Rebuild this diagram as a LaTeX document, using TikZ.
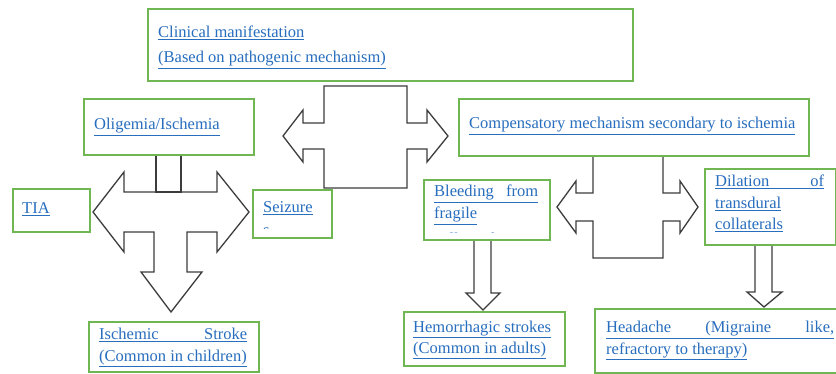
\documentclass[tikz,border=0pt]{standalone}
\usepackage{fontspec}
\setmainfont{Liberation Serif}
\definecolor{boxgreen}{RGB}{112,182,82}
\definecolor{linkblue}{RGB}{40,110,190}
\definecolor{arrowgray}{RGB}{60,60,60}
\newcommand{\ulj}[2]{\underline{\makebox[#1][s]{#2}}}
\tikzset{
  gbox/.style={draw=boxgreen, line width=1.6pt, fill=white, inner sep=0pt, anchor=north west},
  txt/.style={anchor=base west, inner sep=0pt, text=linkblue, font=\fontsize{16.5}{20}\selectfont},
  blockarrow/.style={draw=arrowgray, line width=1.3pt, fill=white, line join=miter},
}
\begin{document}
\begin{tikzpicture}[x=1pt,y=-1pt]
\useasboundingbox (0,0) rectangle (836,374);
\fill[white] (0,0) rectangle (836,374);

% block arrows
\draw[blockarrow] (324,86) -- (407,86) -- (407,123) -- (427,123) -- (427,110) -- (448,136) -- (427,162) -- (427,149) -- (407,149) -- (407,188) -- (324,188) -- (324,149) -- (303,149) -- (303,162) -- (283,136) -- (303,110) -- (303,123) -- (324,123) -- cycle;

\draw[blockarrow] (124,192) -- (217,192) -- (217,172) -- (249,212) -- (217,252) -- (217,232) -- (187,232) -- (187,272) -- (202,272) -- (171,312) -- (141,272) -- (154,272) -- (154,232) -- (124,232) -- (124,252) -- (93,212) -- (124,172) -- cycle;
\draw[blockarrow] (156,155) rectangle (181,192);

\draw[blockarrow] (593,156) -- (663,156) -- (663,193) -- (680,193) -- (680,181) -- (698,207) -- (680,233) -- (680,221) -- (663,221) -- (663,258) -- (593,258) -- (593,221) -- (576,221) -- (576,233) -- (557,207) -- (576,181) -- (576,193) -- (593,193) -- cycle;

\draw[blockarrow] (474,239) -- (491,239) -- (491,293) -- (500,293) -- (483,310) -- (466,293) -- (474,293) -- cycle;
\draw[blockarrow] (755,243) -- (772,243) -- (772,292) -- (782,292) -- (764,307) -- (747,292) -- (755,292) -- cycle;

% boxes
\node[gbox, minimum width=485pt, minimum height=72pt] (clin) at (147,8) {};
\node[gbox, minimum width=170pt, minimum height=56pt] (olig) at (83,98) {};
\node[gbox, minimum width=77pt, minimum height=43pt] (tia) at (12,188) {};
\node[gbox, minimum width=79pt, minimum height=48pt] (seiz) at (252,189) {};
\node[gbox, minimum width=350pt, minimum height=57pt] (comp) at (458,98) {};
\node[gbox, minimum width=126pt, minimum height=60pt] (bleed) at (423,179) {};
\node[gbox, minimum width=131pt, minimum height=76pt] (dil) at (704,168) {};
\node[gbox, minimum width=170pt, minimum height=50pt] (isch) at (88,321) {};
\node[gbox, minimum width=161pt, minimum height=54pt] (hem) at (403,311) {};
\node[gbox, minimum width=248pt, minimum height=64pt] (head) at (594,308) {};

% texts
\node[txt] (clin1) at (158,38) {\underline{Clinical manifestation}};
\node[txt] (clin2) at (158,63) {\underline{(Based on pathogenic mechanism)}};
\node[txt] (oligt) at (94,130) {\underline{Oligemia/Ischemia}};
\node[txt] (tiat) at (22,214) {\underline{TIA}};
\begin{scope}
  \clip (253,190) rectangle (330,229);
  \node[txt] (seiz1) at (263,213) {\underline{Seizure}};
  \node[txt] (seiz2) at (263,236) {\underline{s}};
\end{scope}
\node[txt] (compt) at (469,129) {\underline{Compensatory mechanism secondary to ischemia}};
\begin{scope}
  \clip (424,180) rectangle (548,233);
  \node[txt] (bl1) at (434,197) {\ulj{104pt}{Bleeding from}};
  \node[txt] (bl2) at (434,219) {\underline{fragile}};
  \node[txt] (bl3) at (434,244.5) {\underline{collaterals}};
\end{scope}
\node[txt] (dil1) at (715,187) {\ulj{109pt}{Dilation of}};
\node[txt] (dil2) at (715,208.5) {\underline{transdural}};
\node[txt] (dil3) at (715,230) {\underline{collaterals}};
\node[txt] (isch1) at (99,340) {\ulj{148pt}{Ischemic Stroke}};
\node[txt] (isch2) at (99,361) {\underline{(Common in children)}};
\node[txt] (hem1) at (413,332) {\underline{Hemorrhagic strokes}};
\node[txt] (hem2) at (413,353) {\underline{(Common in adults)}};
\node[txt] (head1) at (606,333) {\ulj{228pt}{Headache (Migraine like,}};
\node[txt] (head2) at (606,354) {\underline{refractory to therapy)}};
\end{tikzpicture}
\end{document}
